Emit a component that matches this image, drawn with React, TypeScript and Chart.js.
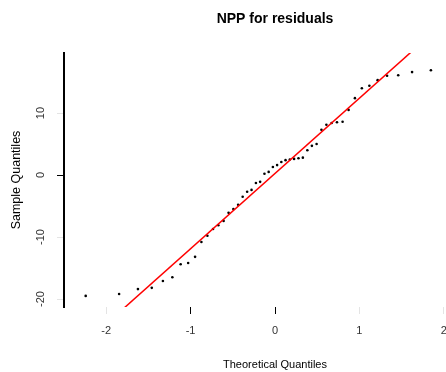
import React, { useEffect, useRef } from "react";
import { Chart, registerables } from "chart.js";

Chart.register(...registerables);

// Normal quantiles for the 50 sorted residuals
const theoreticalQuantiles = [
  -2.243, -1.847, -1.624, -1.46, -1.328, -1.216, -1.118, -1.029, -0.947, -0.872,
  -0.801, -0.734, -0.671, -0.609, -0.55, -0.493, -0.437, -0.383, -0.33, -0.278,
  -0.226, -0.176, -0.125, -0.075, -0.025, 0.025, 0.075, 0.125, 0.176, 0.226,
  0.278, 0.33, 0.383, 0.437, 0.493, 0.55, 0.609, 0.671, 0.734, 0.801,
  0.872, 0.947, 1.029, 1.118, 1.216, 1.328, 1.46, 1.624, 1.847, 2.243,
];

// Sorted residuals
const sampleQuantiles = [
  -19.5, -19.2, -18.4, -18.2, -17.1, -16.5, -14.4, -14.2, -13.2, -10.8,
  -9.8, -8.7, -8.1, -7.4, -6.1, -5.5, -4.8, -3.5, -2.7, -2.4,
  -1.3, -1.1, 0.2, 0.5, 1.3, 1.6, 2.1, 2.4, 2.5, 2.6,
  2.7, 2.8, 4.0, 4.7, 5.0, 7.3, 8.1, 8.4, 8.5, 8.6,
  10.5, 12.4, 14.0, 14.4, 15.3, 16.0, 16.1, 16.6, 16.9, 18.2,
];

// Reference line through the quartiles
const refLineX = [-2.5, 2.5];
const refLineY = [-30.1, 30.6];

const xTicks = [-2, -1, 0, 1, 2];
const yTicks = [-20, -10, 0, 10];

// tick marks drawn in full black; the rest are faint
const xStrongTicks = [-1, 0];
const yStrongTicks = [0];

const X_MIN = -2.5;
const X_MAX = 2.5;
const Y_MIN = -21.29;
const Y_MAX = 19.68;

export default function App() {
  const canvasRef = useRef<HTMLCanvasElement | null>(null);

  useEffect(() => {
    const canvas = canvasRef.current;
    if (!canvas) return;
    Chart.defaults.font.family = '"Liberation Sans", Arial, sans-serif';

    const points = theoreticalQuantiles.map((x, i) => ({ x, y: sampleQuantiles[i] }));
    const line = refLineX.map((x, i) => ({ x, y: refLineY[i] }));

    const chart = new Chart(canvas, {
      type: "scatter",
      data: {
        datasets: [
          {
            data: line,
            showLine: true,
            borderColor: "#ff0000",
            borderWidth: 1.5,
            pointRadius: 0,
          },
          {
            data: points,
            pointRadius: 1.3,
            pointBackgroundColor: "#000",
            pointBorderWidth: 0,
          },
        ],
      },
      options: {
        animation: false,
        responsive: false,
        devicePixelRatio: 1,
        layout: { padding: { left: 0, right: 64, top: 0, bottom: 0 } },
        plugins: {
          legend: { display: false },
          tooltip: { enabled: false },
          title: {
            display: true,
            fullSize: false,
            text: "NPP for residuals",
            color: "#000",
            font: { size: 14, weight: "bold" },
            padding: { top: 11, bottom: 25.2 },
          },
        },
        scales: {
          x: {
            type: "linear",
            min: X_MIN,
            max: X_MAX,
            afterBuildTicks: (s: any) => {
              s.ticks = xTicks.map((v) => ({ value: v }));
            },
            afterFit: (s: any) => {
              s.height = 65;
            },
            border: { display: false },
            grid: {
              display: true,
              drawOnChartArea: false,
              drawTicks: true,
              tickLength: 7,
              tickColor: (ctx: any) =>
                ctx.tick && xStrongTicks.includes(ctx.tick.value) ? "#000" : "#e4e4e4",
              lineWidth: 1,
            },
            ticks: { color: "#333", font: { size: 11 }, padding: 10, maxRotation: 0 },
            title: {
              display: true,
              text: "Theoretical Quantiles",
              color: "#000",
              font: { size: 11 },
              padding: { top: 0, bottom: 0 },
            },
          },
          y: {
            type: "linear",
            min: Y_MIN,
            max: Y_MAX,
            afterBuildTicks: (s: any) => {
              s.ticks = yTicks.map((v) => ({ value: v }));
            },
            afterFit: (s: any) => {
              s.width = 64;
            },
            border: { display: true, color: "#000", width: 2 },
            grid: {
              display: true,
              drawOnChartArea: false,
              drawTicks: true,
              tickLength: 7,
              tickColor: (ctx: any) =>
                ctx.tick && yStrongTicks.includes(ctx.tick.value) ? "#000" : "#e4e4e4",
              lineWidth: 1,
            },
            ticks: {
              color: "#333",
              font: { size: 11 },
              minRotation: 90,
              maxRotation: 90,
              crossAlign: "center",
              padding: 8,
            },
            title: {
              display: true,
              text: "Sample Quantiles",
              color: "#000",
              font: { size: 12.5 },
              padding: { top: 9, bottom: 0 },
            },
          },
        },
      },
    });

    return () => chart.destroy();
  }, []);

  return (
    <div
      style={{
        position: "fixed",
        left: 0,
        top: 0,
        width: 446,
        height: 372,
        overflow: "hidden",
        background: "#fff",
      }}
    >
      <canvas ref={canvasRef} width={550} height={372} style={{ display: "block", width: 550, height: 372 }} />
    </div>
  );
}
